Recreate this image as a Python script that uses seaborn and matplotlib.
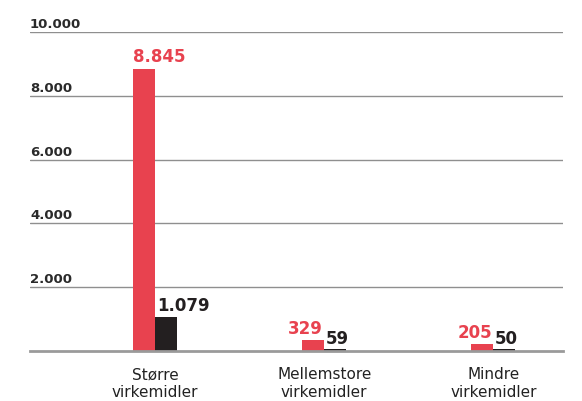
import matplotlib
matplotlib.use("Agg")
import matplotlib.pyplot as plt
import matplotlib.transforms as mtransforms
import pandas as pd
import seaborn as sns

# Data
categories = ['Større\nvirkemidler', 'Mellemstore\nvirkemidler', 'Mindre\nvirkemidler']
series_names = ['Serie A', 'Serie B']
red_values = [8845, 329, 205]
black_values = [1079, 59, 50]
red_labels = ['8.845', '329', '205']
black_labels = ['1.079', '59', '50']
ytick_values = [2000, 4000, 6000, 8000, 10000]
ytick_labels = ['2.000', '4.000', '6.000', '8.000', '10.000']

RED = '#e8424f'
BLACK = '#231f20'
GRID = '#8f8f8f'
TEXT = '#2a2a2a'

df = pd.DataFrame({
    'Kategori': categories * 2,
    'Serie': [series_names[0]] * 3 + [series_names[1]] * 3,
    'Antal': red_values + black_values,
})

sns.set_style('white')
plt.rcParams['font.family'] = ['DejaVu Sans']

fig = plt.figure(figsize=(5.82, 4.02), dpi=100)
ax = fig.add_axes([0.0515, 0.1244, 0.9155, 0.7936])

sns.barplot(data=df, x='Kategori', y='Antal', hue='Serie',
            palette=[RED, BLACK], width=0.26, gap=0, saturation=1,
            linewidth=0, legend=False, ax=ax, zorder=3)

ax.set_ylim(0, 10000)
ax.set_xlim(-0.74, 2.41)
ax.set_yticks(ytick_values)
ax.set_yticklabels([])
ax.tick_params(axis='y', length=0)
ax.tick_params(axis='x', length=0, pad=11, labelsize=11, labelcolor='#222222')
ax.set_xlabel('')
ax.set_ylabel('')

for s in ['top', 'left', 'right']:
    ax.spines[s].set_visible(False)
ax.spines['bottom'].set_color('#9a9a9a')
ax.spines['bottom'].set_linewidth(2)
ax.spines['bottom'].set_zorder(4)

for v in ytick_values:
    ax.axhline(v, color=GRID, lw=1.0, zorder=1)

# y tick labels sit on top of the gridlines at the left edge
trans = mtransforms.blended_transform_factory(ax.transAxes, ax.transData)
for v, lab in zip(ytick_values, ytick_labels):
    ax.text(0.0, v + 60, lab, transform=trans, ha='left', va='bottom',
            fontsize=9.5, fontweight='bold', color=TEXT, clip_on=False)

# value labels above the bars
red_bars, black_bars = ax.containers[0], ax.containers[1]
for i, (bar, lab) in enumerate(zip(red_bars, red_labels)):
    if i == 0:
        x, ha = bar.get_x(), 'left'
    else:
        x, ha = bar.get_x() + bar.get_width() - 0.01, 'right'
    ax.text(x, bar.get_height() + 120, lab, ha=ha, va='bottom',
            fontsize=12, fontweight='bold', color=RED)
for bar, lab in zip(black_bars, black_labels):
    ax.text(bar.get_x() + 0.01, bar.get_height() + 80, lab, ha='left', va='bottom',
            fontsize=12, fontweight='bold', color=BLACK)

fig.savefig('out.png', dpi=100)
